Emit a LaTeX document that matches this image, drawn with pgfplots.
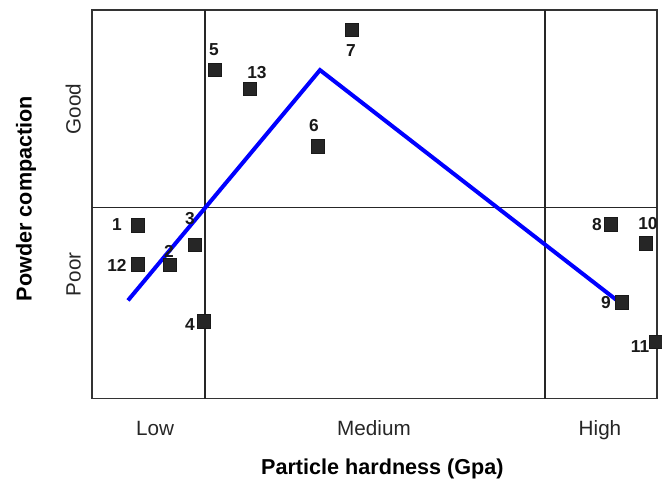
\documentclass[border=0pt]{standalone}
\usepackage{pgfplots}
\pgfplotsset{compat=1.18}
\usepackage{fontspec}
\setmainfont{Liberation Sans}
\begin{document}
\begin{tikzpicture}
\begin{axis}[
  scale only axis,
  width=423.75pt, height=291pt,
  xmin=92, xmax=657, ymin=0, ymax=388,
  clip=false,
  axis line style={draw=black!80, line width=1.1pt},
  xtick={155,374,600},
  xticklabels={Low,Medium,High},
  ytick={124,289},
  yticklabels={Poor,Good},
  major tick length=0pt,
  tick label style={font=\fontsize{15.5}{17}\selectfont, text=black!85},
  xticklabel style={anchor=base, yshift=-27.5pt},
  yticklabel style={rotate=90, anchor=base, yshift=8.5pt},
  xlabel={\textbf{Particle hardness (Gpa)}},
  ylabel={\textbf{Powder compaction}},
  label style={font=\fontsize{16.2}{18}\selectfont},
  xlabel style={at={(axis description cs:0.514,0)}, anchor=base, yshift=-57pt},
  ylabel style={at={(axis description cs:-0.107,0.515)}, anchor=base},
]
% quadrant lines
\addplot[black!85, line width=0.8pt] coordinates {(205,0) (205,388)};
\addplot[black!85, line width=0.8pt] coordinates {(545,0) (545,388)};
\addplot[black!85, line width=0.8pt] coordinates {(92,191) (657,191)};
% blue trend line
\addplot[blue, line width=3pt] coordinates {(128,98) (320,328) (617,98)};
% data points
\addplot[only marks, mark=square*, mark size=5pt, black!90, mark options={fill=black!85}] coordinates {
 (137.5,173) (170,133.5) (194.5,153.5) (204,77) (215,328) (318,252) (352,368)
 (611,174) (622,96) (646,155) (656,57) (137.5,134) (250,309)
};
\begin{scope}[every node/.style={font=\bfseries\fontsize{13}{14}\selectfont, text=black!90, inner sep=0pt}]
\node at (axis cs:117,174) {1};
\node at (axis cs:169,147) {2};
\node at (axis cs:190,180) {3};
\node at (axis cs:190,74) {4};
\node at (axis cs:214,348) {5};
\node at (axis cs:314,273) {6};
\node at (axis cs:351,348) {7};
\node at (axis cs:597,174) {8};
\node at (axis cs:606,96) {9};
\node at (axis cs:648,175) {10};
\node at (axis cs:640,52) {11};
\node at (axis cs:117,133) {12};
\node at (axis cs:257,326) {13};
\end{scope}
\end{axis}
\pgfresetboundingbox
\path[use as bounding box] ([shift={(-69pt,-61.5pt)}]current axis.south west) rectangle ([shift={(3.75pt,7.5pt)}]current axis.north east);
\end{tikzpicture}
\end{document}
